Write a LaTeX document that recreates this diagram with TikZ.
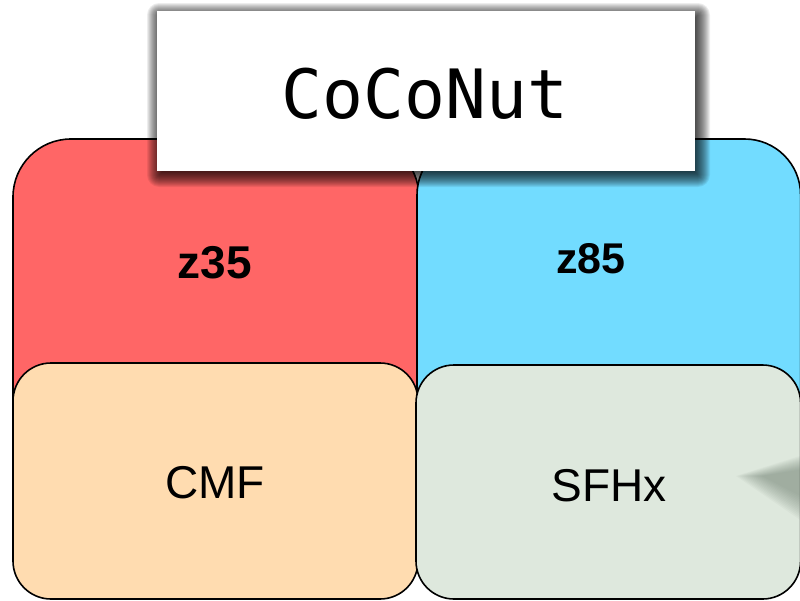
\documentclass[tikz,border=0pt]{standalone}
\usepackage{fontspec}
\newfontfamily\titlefont{DejaVu Sans Mono}
\newfontfamily\labelfont{Liberation Sans}
\definecolor{zred}{HTML}{FF6666}
\definecolor{zblue}{HTML}{72DCFF}
\definecolor{cmfpeach}{HTML}{FFDCB0}
\definecolor{sfhxgreen}{HTML}{DEE8DD}
\definecolor{wedgegray}{HTML}{6F7F71}
\tikzset{
  panel/.style={draw=black, line width=1.6pt, rounded corners=#1},
  boldlabel/.style={font=\labelfont\bfseries\fontsize{#1}{#1}\selectfont, inner sep=0pt},
  plainlabel/.style={font=\labelfont\fontsize{#1}{#1}\selectfont, inner sep=0pt},
  softlayer/.style={fill=black, opacity=0.07},
}
\begin{document}
\begin{tikzpicture}[x=1pt,y=-1pt]
\useasboundingbox (0,0) rectangle (800,600);
\fill[white] (0,0) rectangle (800,600);

% upper panels
\draw[panel=58, fill=zred] (13,139) rectangle (419,599);
\draw[panel=56, fill=zblue] (417,139) rectangle (800.6,599);

% lower panels
\draw[panel=38, fill=cmfpeach] (13,363) rectangle (418,599);
\draw[panel=38, fill=sfhxgreen] (416,365) rectangle (800.6,599);

% soft shadow entering from the right edge
\begin{scope}
  \clip (416,365) rectangle (800,599);
  \foreach \d in {-8,-6,...,18}
    \fill[wedgegray, opacity=0.05]
      (754-\d,476) -- (812,463-0.6*\d) -- (812,510+\d) -- cycle;
\end{scope}

% labels
\node[boldlabel=46] (z35) at (215,263) {z35};
\node[boldlabel=43] (z85) at (591,259) {z85};
\node[plainlabel=46] (cmf) at (215,483) {CMF};
\node[plainlabel=46] (sfhx) at (609,486) {SFHx};

% soft drop shadow of the title card, built from stacked translucent layers
\foreach \e in {-4,...,12}
  \fill[softlayer, rounded corners={max(\e,0)*1pt+0.1pt}]
    (159-\e,15-\e) rectangle (698+\e,175+\e);

% title card
\node[fill=white, minimum width=538pt, minimum height=160pt, inner sep=0pt]
  (title) at (426,91) {};
\node[font=\titlefont\fontsize{68}{68}\selectfont, inner sep=0pt]
  (titletext) at (425,94) {CoCoNut};
\end{tikzpicture}
\end{document}
